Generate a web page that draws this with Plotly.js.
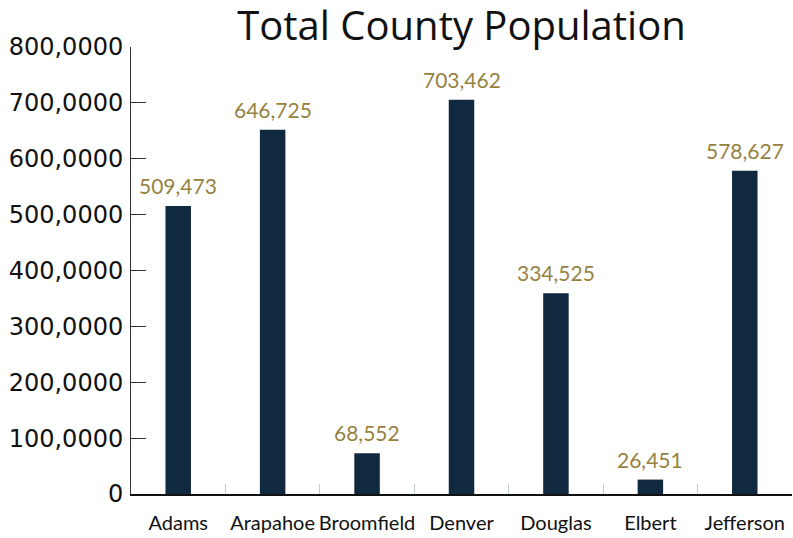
<!DOCTYPE html>
<html>
<head>
<meta charset="utf-8">
<script src="https://cdn.plot.ly/plotly-3.0.1.min.js"></script>
<style>html,body{margin:0;padding:0;background:#fff;}#chart{width:793px;height:538px;}</style>
</head>
<body>
<div id="chart"></div>
<script>
const counties = ["Adams", "Arapahoe", "Broomfield", "Denver", "Douglas", "Elbert", "Jefferson"];
const barValues = [515500, 651800, 72900, 705500, 359500, 25800, 578300];
const labelText = ["509,473", "646,725", "68,552", "703,462", "334,525", "26,451", "578,627"];
const yTickVals = [0, 100000, 200000, 300000, 400000, 500000, 600000, 700000, 800000];
const yTickText = ["0", "100,0000", "200,0000", "300,0000", "400,0000", "500,0000", "600,0000", "700,0000", "800,0000"];

const labelFont = "Lato, 'Noto Sans', sans-serif";

const trace = {
  type: "bar",
  x: counties,
  y: barValues,
  marker: {color: "#10293f"},
  hoverinfo: "skip"
};

const annotations = counties.map((c, i) => ({
  x: c, y: barValues[i], xref: "x", yref: "y",
  text: labelText[i], showarrow: false,
  yanchor: "bottom", yshift: 6,
  font: {family: labelFont, size: 21, color: "#96823f"}
}));

const layout = {
  width: 793, height: 538,
  margin: {l: 131, r: 1, t: 47, b: 44, pad: 0},
  paper_bgcolor: "#fff", plot_bgcolor: "#fff",
  showlegend: false,
  bargap: 0.73,
  title: {
    text: "Total County Population",
    x: 0.5, xref: "paper", xanchor: "center",
    y: 0.952, yref: "container", yanchor: "middle",
    font: {family: "'Open Sans', sans-serif", size: 40, color: "#111"}
  },
  xaxis: {
    type: "category",
    showgrid: false, zeroline: false,
    showline: true, linecolor: "#111", linewidth: 1.5,
    ticks: "inside", tickson: "boundaries", ticklen: 10, tickwidth: 1, tickcolor: "#c3cbd3",
    tickangle: 0,
    tickfont: {family: labelFont, size: 20, color: "#111"},
    ticklabelstandoff: 10
  },
  yaxis: {
    range: [0, 800000],
    showgrid: false, zeroline: false,
    showline: true, linecolor: "#333", linewidth: 1,
    ticks: "inside", ticklen: 15, tickwidth: 1, tickcolor: "#333",
    tickvals: yTickVals, ticktext: yTickText,
    tickfont: {family: "'DejaVu Sans', sans-serif", size: 24, color: "#111"},
    ticklabelstandoff: 2
  },
  annotations: annotations
};

Plotly.newPlot("chart", [trace], layout, {displayModeBar: false, staticPlot: true});
</script>
</body>
</html>
